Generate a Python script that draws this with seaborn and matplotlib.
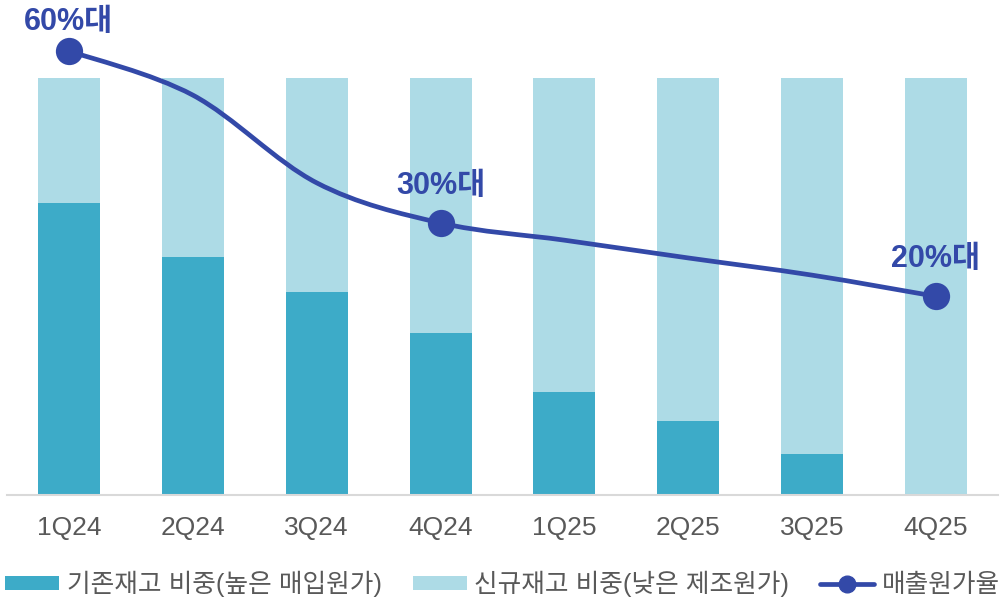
import numpy as np
import pandas as pd
import matplotlib
matplotlib.use("Agg")
import matplotlib.pyplot as plt
import seaborn as sns
from matplotlib.path import Path
from matplotlib.patches import PathPatch, Patch
from matplotlib.lines import Line2D

quarters = ["1Q24", "2Q24", "3Q24", "4Q24", "1Q25", "2Q25", "3Q25", "4Q25"]
old_share = [0.70, 0.57, 0.488, 0.389, 0.248, 0.178, 0.099, 0.0]
new_share = [0.30, 0.43, 0.512, 0.611, 0.752, 0.822, 0.901, 1.0]
cost_ratio = [68.0, 60.3, 45.0, 38.0, 35.0, 31.9, 28.9, 25.2]
ratio_labels = {0: "60%대", 3: "30%대", 7: "20%대"}

old_name = "기존재고 비중(높은 매입원가)"
new_name = "신규재고 비중(낮은 제조원가)"
line_name = "매출원가율"

c_old = "#3DABC8"
c_new = "#ADDBE6"
c_line = "#3349A8"

sns.set_style("white")
plt.rcParams["font.family"] = ["Liberation Sans", "Noto Sans CJK KR"]

df = pd.DataFrame({"quarter": quarters, "old": old_share, "new": new_share})
df["total"] = df["old"] + df["new"]

fig = plt.figure(figsize=(10.05, 6.01), dpi=100)
ax = fig.add_axes([0.007, 1 - 495 / 601, 0.986, (495 - 20) / 601])

sns.barplot(data=df, x="quarter", y="total", color=c_new, width=0.5,
            saturation=1, linewidth=0, ax=ax)
sns.barplot(data=df, x="quarter", y="old", color=c_old, width=0.5,
            saturation=1, linewidth=0, ax=ax)
ax.set_xlim(-0.5, 7.5)
ax.set_ylim(0, (495 - 20) / 417)
ax.set_xlabel("")
ax.set_ylabel("")
ax.set_yticks([])
for s in ["top", "right", "left"]:
    ax.spines[s].set_visible(False)
ax.spines["bottom"].set_color("#D9D9D9")
ax.spines["bottom"].set_linewidth(1.5)
ax.tick_params(axis="x", length=0, pad=15, labelsize=19, labelcolor="#595959")

# line on a second axis, smoothed like the excel chart
ax2 = ax.twinx()
ax2.set_ylim(-9.44, 73.4)
ax2.axis("off")
xs = np.arange(len(cost_ratio))
ys = np.array(cost_ratio)
verts = [(xs[0], ys[0])]
codes = [Path.MOVETO]
n = len(xs)
for i in range(n - 1):
    p0 = np.array([xs[max(i - 1, 0)], ys[max(i - 1, 0)]])
    p1 = np.array([xs[i], ys[i]])
    p2 = np.array([xs[i + 1], ys[i + 1]])
    p3 = np.array([xs[min(i + 2, n - 1)], ys[min(i + 2, n - 1)]])
    c1 = p1 + (p2 - p0) / 6
    c2 = p2 - (p3 - p1) / 6
    verts += [tuple(c1), tuple(c2), tuple(p2)]
    codes += [Path.CURVE4] * 3
ax2.add_patch(PathPatch(Path(verts, codes), fill=False, edgecolor=c_line,
                        lw=3.4, capstyle="round", clip_on=False))

idx = list(ratio_labels.keys())
sns.scatterplot(x=xs[idx], y=ys[idx], s=330, color=c_line, edgecolor=c_line,
                ax=ax2, zorder=5, clip_on=False)
for i, txt in ratio_labels.items():
    off = 10 if i == 0 else 16
    ax2.annotate(txt, (xs[i], ys[i]), xytext=(0, off), textcoords="offset points",
                 ha="center", va="bottom", fontsize=22, fontweight="bold",
                 color=c_line, annotation_clip=False)

handles = [
    Patch(facecolor=c_old, edgecolor="none"),
    Patch(facecolor=c_new, edgecolor="none"),
    Line2D([0], [0], color=c_line, lw=3.4, marker="o", markersize=12),
]
fig.legend(handles, [old_name, new_name, line_name], loc="center",
           bbox_to_anchor=(0.5, 1 - 584 / 601), ncol=3, frameon=False,
           fontsize=18.5, labelcolor="#595959", handlelength=2.1,
           handleheight=0.5, handletextpad=0.3, columnspacing=1.2,
           borderaxespad=0, borderpad=0)

fig.savefig("out.png", dpi=100)
